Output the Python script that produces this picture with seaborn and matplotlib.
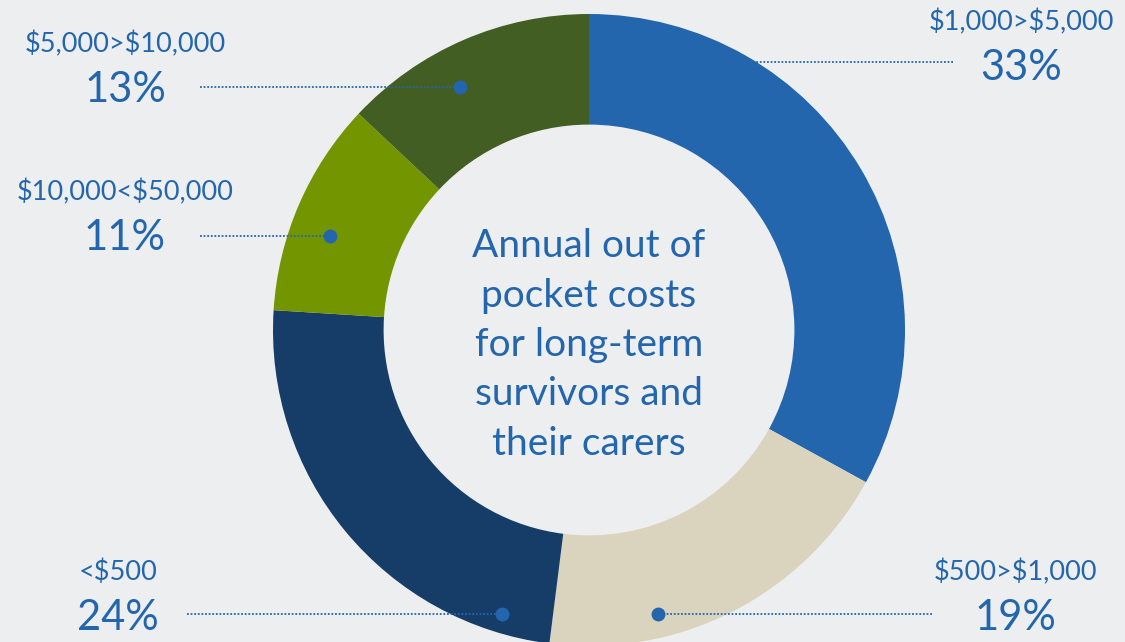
import matplotlib
matplotlib.use("Agg")
import matplotlib.pyplot as plt
import seaborn as sns

# data (clockwise from 12 o'clock)
categories = ["$1,000>$5,000", "$500>$1,000", "<$500", "$10,000<$50,000", "$5,000>$10,000"]
shares = [33, 19, 24, 11, 13]
colors = ["#2366AD", "#DAD3BE", "#153D68", "#729500", "#435E22"]
center_text = "Annual out of\npocket costs\nfor long-term\nsurvivors and\ntheir carers"

# label layout in pixels from the top-left: text x, category y, pct y, line x0, line end x, line y
label_x = [1021, 1015, 118, 125, 125]
cat_y = [22, 572, 572, 192, 44]
pct_y = [68, 618, 618, 238, 90]
line_x0 = [953, 932, 187, 200, 200]
dot_x = [753, 658, 502, 330, 460]
line_y = [62, 614, 614, 236, 87]
show_dot = [False, True, True, True, True]

sns.set_theme(style="white")
plt.rcParams["font.family"] = ["Lato", "DejaVu Sans"]

bg = "#ECEEF0"
blue = "#2366AD"
W, H = 1125, 642
fig = plt.figure(figsize=(W / 100, H / 100), dpi=100, facecolor=bg)
ax = fig.add_axes([0, 0, 1, 1])
ax.set_facecolor(bg)

cx, cy, R = 589, H - 330, 316
ax.pie(shares, colors=colors, startangle=90, counterclock=False,
       center=(cx, cy), radius=R,
       wedgeprops=dict(width=R * 0.35, linewidth=0))

for i, cat in enumerate(categories):
    ax.text(label_x[i], H - cat_y[i], cat, ha="center", va="center",
            fontsize=19.5, color=blue, parse_math=False)
    ax.text(label_x[i], H - pct_y[i], f"{shares[i]}%", ha="center", va="center",
            fontsize=30, color=blue, parse_math=False)
    ax.plot([line_x0[i], dot_x[i]], [H - line_y[i], H - line_y[i]],
            color=blue, lw=1.3, linestyle=(0, (1, 1)))
    if show_dot[i]:
        ax.plot(dot_x[i], H - line_y[i], "o", color=blue, ms=10, mew=0)

ax.text(cx, H - 345, center_text, ha="center", va="center", fontsize=28,
        color=blue, linespacing=1.46)

ax.set_xlim(0, W)
ax.set_ylim(0, H)
ax.set_aspect("equal")
ax.axis("off")

fig.savefig("out.png", dpi=100, facecolor=bg)
